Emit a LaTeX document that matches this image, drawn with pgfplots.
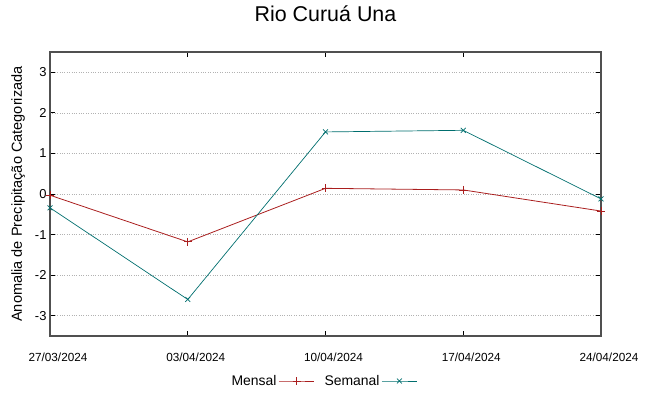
\documentclass[border=0pt]{standalone}
\usepackage{pgfplots}
\pgfplotsset{compat=1.18}
\usepackage{fontspec}
\setmainfont{Liberation Sans}
\definecolor{mensal}{RGB}{170,30,30}
\definecolor{semanal}{RGB}{0,110,110}
\definecolor{axgray}{RGB}{80,80,80}
\begin{document}
\begin{tikzpicture}
\path[use as bounding box] (-50bp,-60bp) rectangle (599bp,336bp);
\begin{axis}[
  at={(0,0)}, anchor=south west,
  scale only axis, width=551bp, height=284bp,
  xmin=0, xmax=4, ymin=-3.5, ymax=3.5,
  xtick={0,1,2,3,4},
  xticklabels={27/03/2024,03/04/2024,10/04/2024,17/04/2024,24/04/2024},
  ytick={-3,-2,-1,0,1,2,3},
  /pgf/number format/assume math mode=true,
  xticklabel style={font=\fontsize{11.8}{14}\selectfont, anchor=base, yshift=-25bp, xshift=8bp},
  yticklabel style={font=\fontsize{13}{15}\selectfont},
  tick align=inside, major tick length=5bp,
  axis line style={axgray, line width=1.2pt},
  tick style={black, line width=0.8pt},
  ymajorgrids, grid style={dotted, gray!60, line width=0.7pt},
  title={Rio Curuá Una},
  title style={font=\fontsize{21.5}{24}\selectfont, at={(0.5,1)}, anchor=base, yshift=25bp},
  ylabel={Anomalia de Precipitação Categorizada},
  ylabel style={font=\fontsize{14.6}{16}\selectfont, at={(axis description cs:-0.058,0.5)}, anchor=center},
  legend style={at={(0.5,0)}, anchor=center, yshift=-45bp, xshift=-2bp, draw=none, fill=none,
    legend columns=2, font=\fontsize{14}{16}\selectfont,
    /tikz/every even column/.append style={column sep=8bp}},
  legend plot pos=right,
  legend image code/.code={\draw[mark repeat=2, mark phase=2, #1] plot coordinates {(0cm,0cm) (0.62cm,0cm) (1.24cm,0cm)};},
]
\addplot[mensal, line width=0.8pt, mark=+, mark size=4bp] coordinates {
  (0,-0.03) (1,-1.18) (2,0.14) (3,0.1) (4,-0.42)};
\addlegendentry{Mensal}
\addplot[semanal, line width=0.7pt, mark=x, mark size=3.5bp] coordinates {
  (0,-0.34) (1,-2.6) (2,1.53) (3,1.57) (4,-0.12)};
\addlegendentry{Semanal}
\end{axis}
\end{tikzpicture}
\end{document}
